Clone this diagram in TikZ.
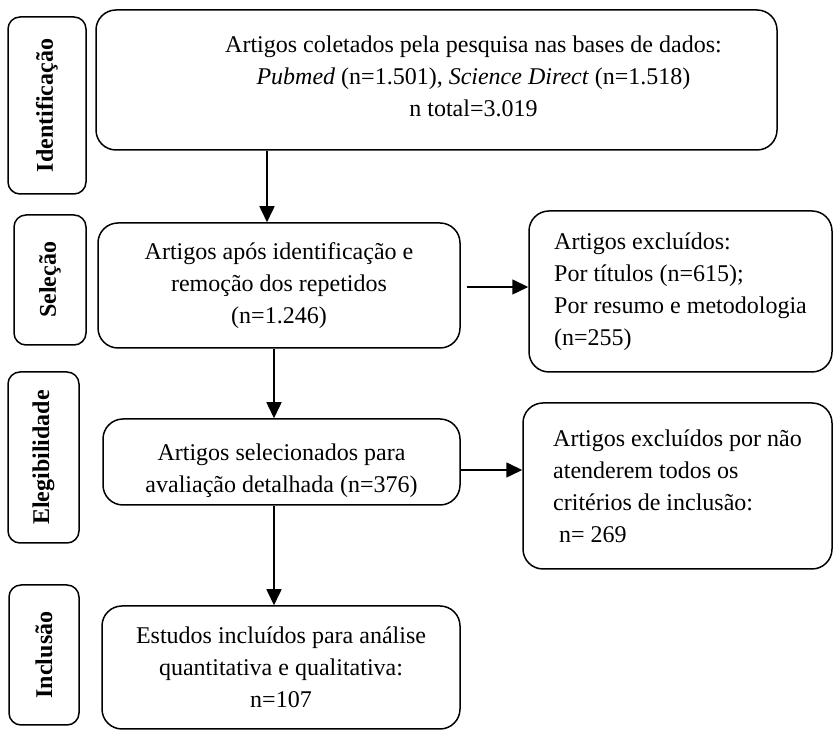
\documentclass[tikz,border=0pt]{standalone}
\usepackage{fontspec}
\setmainfont{Liberation Serif}
\usetikzlibrary{arrows.meta}

\begin{document}
\begin{tikzpicture}[x=1pt,y=1pt,
        etapa/.style={draw,rectangle,rounded corners=12pt,line width=1.5pt,rotate=90,font=\bfseries\fontsize{24}{30}\selectfont},
        caixa/.style={draw,rectangle,rounded corners=20pt,line width=1.5pt,align=center,font=\fontsize{24}{32}\selectfont},
        texto/.style={align=center,font=\fontsize{24}{32}\selectfont},
        seta/.style={line width=1.6pt,-{Triangle[length=16pt,width=15pt]}}]
        \useasboundingbox (0,0) rectangle (833,730);

        %draw stage labels on the left
        \node[etapa,minimum width=177,minimum height=78] (ident) at (47,624.5) {Identificação};
        \node[etapa,minimum width=130,minimum height=72] (selL) at (50,450) {Seleção};
        \node[etapa,minimum width=171,minimum height=71] (elegL) at (43.5,272.5) {Elegibilidade};
        \node[etapa,minimum width=140,minimum height=70] (inclL) at (44,75) {Inclusão};

        %draw main boxes
        \node[caixa,minimum width=681,minimum height=140] (coleta) at (436.5,650) {};
        \node[texto] (coletaTxt) at ([xshift=37pt,yshift=4pt]coleta.center)
            {Artigos coletados pela pesquisa nas bases de dados:\\
             \textit{Pubmed} (n=1.501), \textit{Science Direct} (n=1.518)\\
             n total=3.019};
        \node[caixa,minimum width=362,minimum height=125] (selecao) at (279,444.5)
            {Artigos após identificação e\\ remoção dos repetidos\\ (n=1.246)};
        \node[caixa,minimum width=357,minimum height=86] (elegiveis) at (281.5,268) {};
        \node[texto] (elegiveisTxt) at ([yshift=-9pt]elegiveis.center)
            {Artigos selecionados para\\ avaliação detalhada (n=376)};
        \node[caixa,minimum width=358,minimum height=123] (incluidos) at (281,62.5)
            {Estudos incluídos para análise\\ quantitativa e qualitativa:\\ n=107};

        %draw excluded boxes
        \node[caixa,align=left,minimum width=303,minimum height=161] (excl1) at (680.5,438.5)
            {Artigos excluídos:\\ Por títulos (n=615);\\ Por resumo e metodologia\\ (n=255)};
        \node[caixa,align=left,minimum width=309,minimum height=166] (excl2) at (677.5,244)
            {Artigos excluídos por não\\ atenderem todos os\\ critérios de inclusão:\\ \hspace*{0.25em}n= 269};

        %draw arrows
        \coordinate (col1) at (267,0);
        \coordinate (col2) at (274,0);
        \coordinate (lin1) at (0,443);
        \coordinate (lin2) at (0,260);
        \draw[seta] (coleta.south -| col1) -- (selecao.north -| col1);
        \draw[seta] (selecao.south -| col2) -- (elegiveis.north -| col2);
        \draw[seta] (elegiveis.south -| col2) -- (incluidos.north -| col2);
        \draw[seta,shorten <=6pt] (selecao.east |- lin1) -- (excl1.west |- lin1);
        \draw[seta] (elegiveis.east |- lin2) -- (excl2.west |- lin2);
\end{tikzpicture}
\end{document}
